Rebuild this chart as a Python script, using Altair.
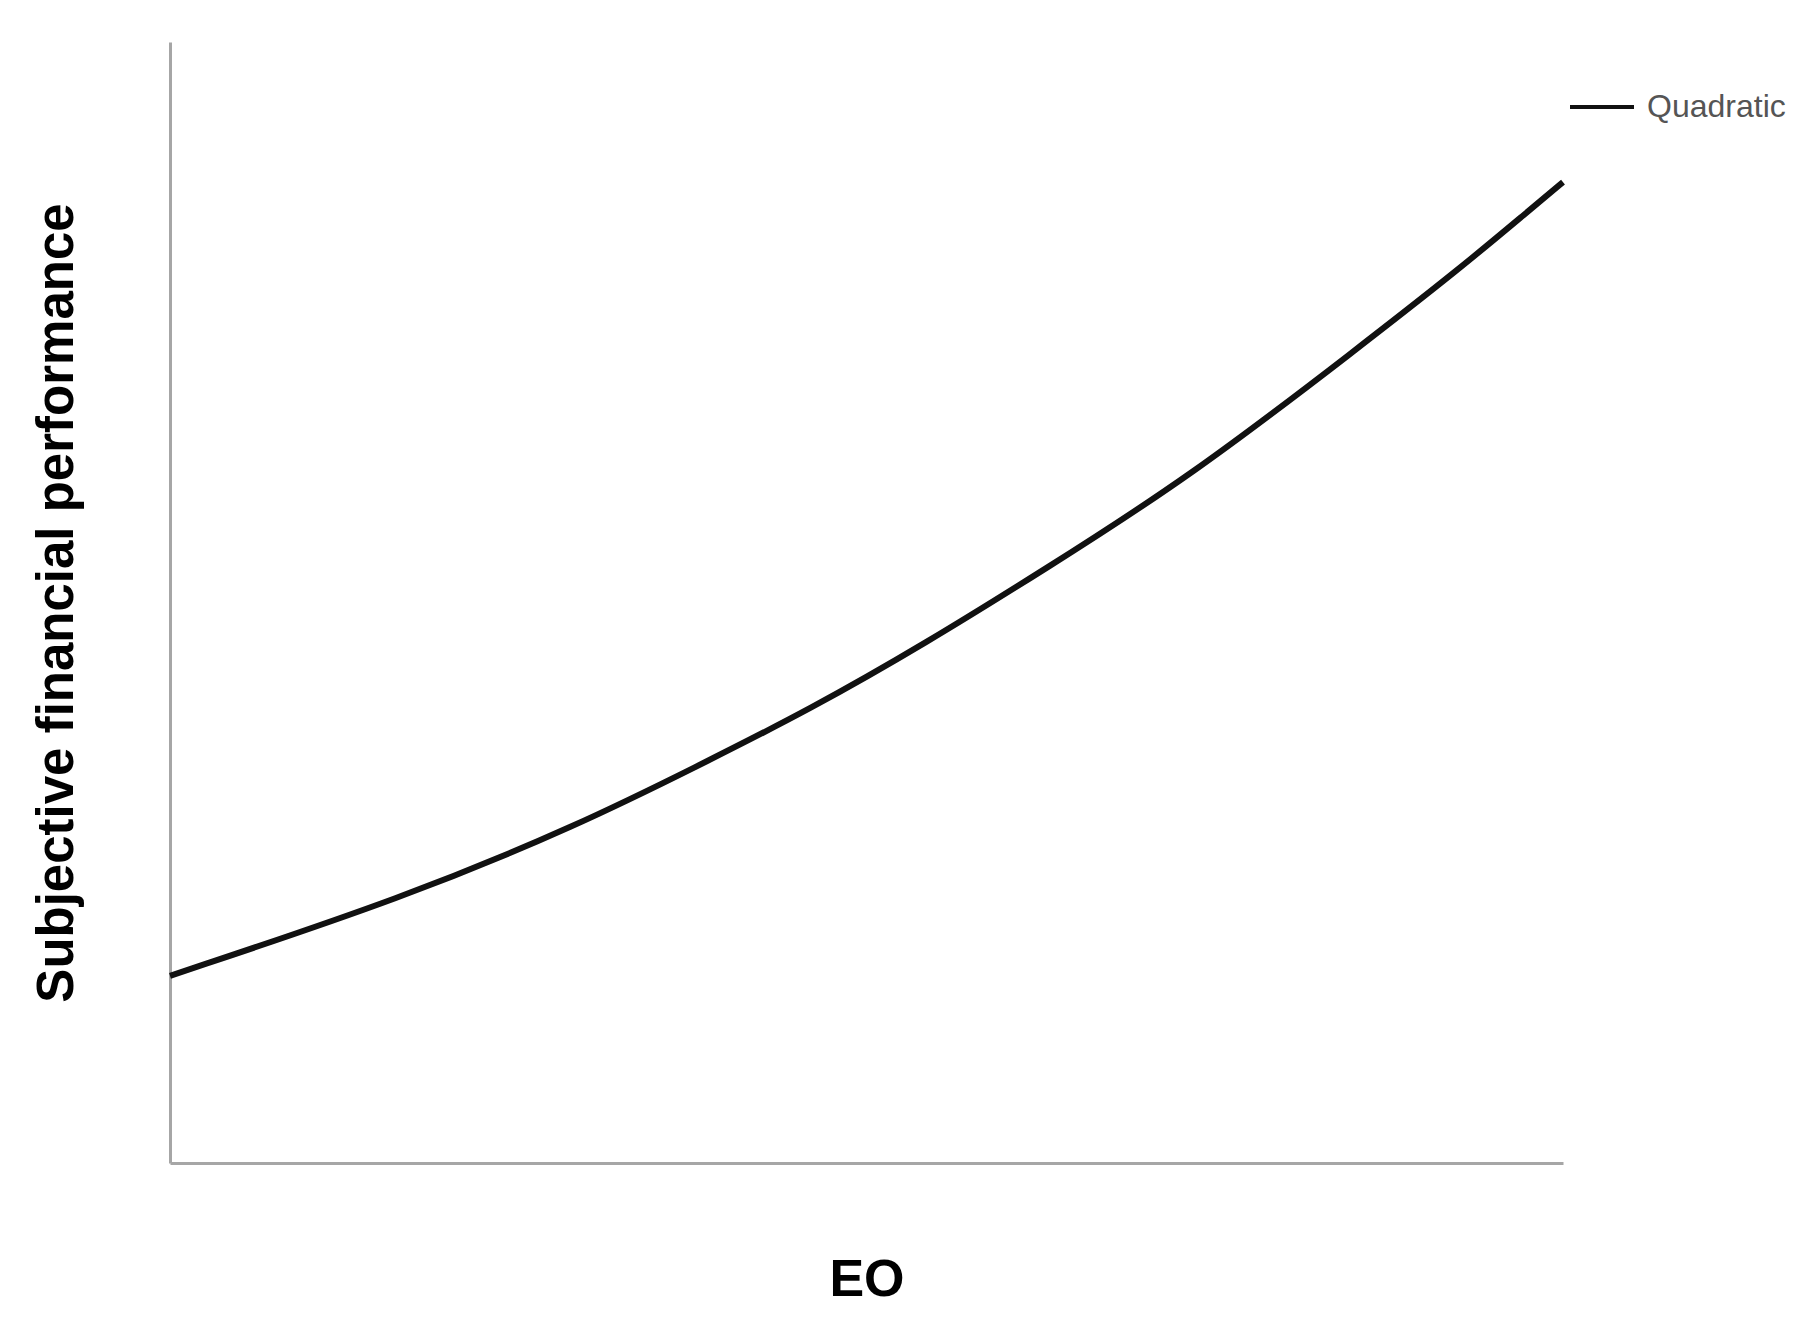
import altair as alt
import pandas as pd

# values (EO on 0-100, performance on 0-100, no tick labels shown)
eo = [0, 16.9, 29.4, 37.7, 46.0, 54.3, 62.6, 73.2, 85.4, 92.6, 97.4, 100]
perf = [16.7, 23.7, 30.2, 35.3, 40.5, 46.4, 52.8, 61.2, 72.8, 79.8, 84.8, 87.5]
series = ["Quadratic"] * len(eo)

df = pd.DataFrame({"EO": eo, "perf": perf, "fit": series})

chart = alt.Chart(df).mark_line(strokeWidth=6, interpolate="basis").encode(
    x=alt.X("EO:Q", scale=alt.Scale(domain=[0, 100], nice=False, zero=False),
            axis=alt.Axis(title="EO", labels=False, ticks=False, grid=False,
                          domainColor="#a6a6a6", domainWidth=3,
                          titleFont="Liberation Sans", titleFontSize=52, titleFontWeight="bold",
                          titleColor="#000000", titleBaseline="alphabetic", titleY=132)),
    y=alt.Y("perf:Q", scale=alt.Scale(domain=[0, 100], nice=False, zero=False),
            axis=alt.Axis(title="Subjective financial performance", labels=False, ticks=False, grid=False,
                          domainColor="#a6a6a6", domainWidth=3,
                          titleFont="Liberation Sans", titleFontSize=51, titleFontWeight="bold",
                          titleColor="#000000", titleBaseline="alphabetic", titleX=-98,
                          titleAngle=270)),
    color=alt.Color("fit:N", scale=alt.Scale(range=["#111111"]),
                    legend=alt.Legend(title=None, orient="none", legendX=1398, legendY=31,
                                      symbolType="stroke", symbolSize=4096, symbolStrokeWidth=4,
                                      symbolStrokeColor="#222222",
                                      labelFont="Liberation Sans",
                                      labelFontSize=32, labelColor="#555555", labelOffset=11,
                                      labelLimit=300, padding=0)),
).properties(
    width=1393, height=1121,
    autosize=alt.AutoSizeParams(type="none"),
    padding={"left": 162, "top": 34, "right": 240, "bottom": 150},
    background="#ffffff",
).configure_view(stroke="transparent", strokeWidth=0)

chart.save("out.html", embed_options={"renderer": "svg", "actions": False})
